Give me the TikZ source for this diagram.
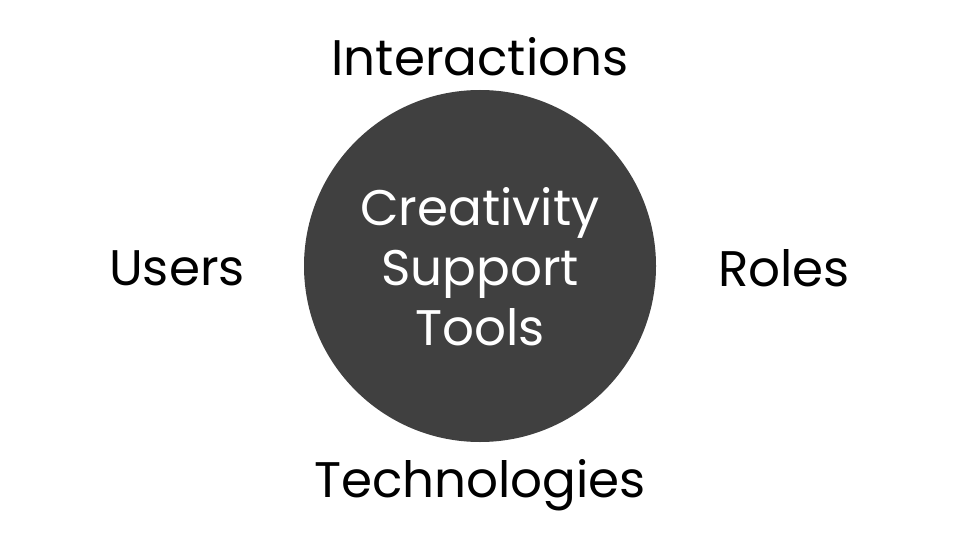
\documentclass[tikz,border=0pt]{standalone}
\usepackage{fontspec}
\setmainfont{Poppins}
\definecolor{circfill}{HTML}{404040}
\begin{document}
\begin{tikzpicture}[x=1pt,y=-1pt,
  lbl/.style={font=\fontsize{50}{60}\selectfont, text=black, inner sep=0pt, anchor=center},
  inlbl/.style={font=\fontsize{50}{60}\selectfont, text=white, align=center, inner sep=0pt, anchor=center}]
\useasboundingbox[fill=white] (0,0) rectangle (960,540);
\fill[circfill] (480,266) circle[radius=176];
\node[inlbl] (cst) at (480,267) {Creativity\\Support\\Tools};
\node[lbl] (inter) at (480,57) {Interactions};
\node[lbl] (users) at (177,268) {Users};
\node[lbl] (roles) at (784,268) {Roles};
\node[lbl] (tech) at (480,485) {Technologies};
\end{tikzpicture}
\end{document}
